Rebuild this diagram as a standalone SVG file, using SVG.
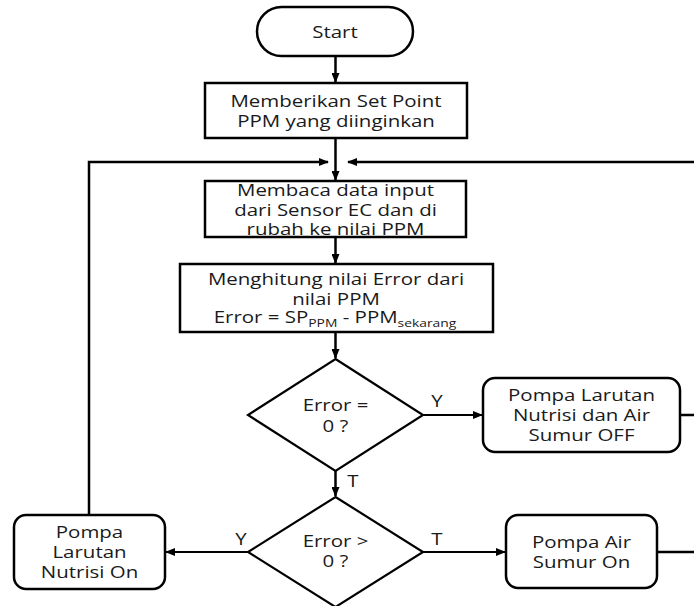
<svg xmlns="http://www.w3.org/2000/svg" width="694" height="606" viewBox="0 0 694 606">
<style>
.b{fill:#fff;stroke:#000;stroke-width:2.5}
.d{fill:#fff;stroke:#000;stroke-width:2.2}
.c{fill:none;stroke:#000;stroke-width:2.5}
.c2{fill:none;stroke:#000;stroke-width:2}
.t{font-family:"Open Sans","DejaVu Sans",sans-serif;font-size:15.5px;text-anchor:middle;fill:#1a1a1a}
.s{font-size:10.5px}
</style>
<defs>
<marker id="ah" markerUnits="userSpaceOnUse" markerWidth="10" markerHeight="8" refX="9" refY="4" orient="auto">
<path d="M0,0 L10,4 L0,8 Z" fill="#000"/>
</marker>
</defs>
<rect width="694" height="606" fill="#fff"/>
<g id="connectors">
<path class="c" d="M335.5,56 V82" marker-end="url(#ah)"/>
<path class="c" d="M335.5,138 V180" marker-end="url(#ah)"/>
<path class="c" d="M89,515 V162 H328" marker-end="url(#ah)"/>
<path class="c" d="M680,415 H698 M657,552 H698 V162 H348" marker-end="url(#ah)"/>
<path class="c" d="M335.5,237 V263" marker-end="url(#ah)"/>
<path class="c" d="M335.5,332 V358" marker-end="url(#ah)"/>
<path class="c2" d="M423,415 H482" marker-end="url(#ah)"/>
<path class="c" d="M335.5,471 V496" marker-end="url(#ah)"/>
<path class="c2" d="M248,552 H166" marker-end="url(#ah)"/>
<path class="c2" d="M423,552 H505" marker-end="url(#ah)"/>
<text class="t" transform="translate(437,0) scale(1.32,1)" y="407">Y</text>
<text class="t" transform="translate(353,0) scale(1.32,1)" y="487">T</text>
<text class="t" transform="translate(241,0) scale(1.32,1)" y="545">Y</text>
<text class="t" transform="translate(437,0) scale(1.32,1)" y="545">T</text>
</g>
<g id="start">
<rect class="b" x="257" y="7" width="156" height="49" rx="24.5"/>
<text class="t" transform="translate(335,0) scale(1.32,1)" y="38.5">Start</text>
</g>
<g id="setpoint">
<rect class="b" x="205" y="83" width="262" height="55"/>
<text class="t" transform="translate(336,0) scale(1.32,1)" y="107.5">Memberikan Set Point</text>
<text class="t" transform="translate(336,0) scale(1.32,1)" y="127.5">PPM yang diinginkan</text>
</g>
<g id="baca">
<rect class="b" x="205" y="181" width="261" height="56"/>
<text class="t" transform="translate(335.5,0) scale(1.32,1)" y="196.5">Membaca data input</text>
<text class="t" transform="translate(335.5,0) scale(1.32,1)" y="216">dari Sensor EC dan di</text>
<text class="t" transform="translate(335.5,0) scale(1.32,1)" y="235.5">rubah ke nilai PPM</text>
</g>
<g id="hitung">
<rect class="b" x="180" y="264" width="313" height="68"/>
<text class="t" transform="translate(336,0) scale(1.32,1)" y="285">Menghitung nilai Error dari</text>
<text class="t" transform="translate(336,0) scale(1.32,1)" y="305">nilai PPM</text>
<text class="t" transform="translate(335,0) scale(1.32,1)" y="323.5">Error = SP<tspan class="s" dy="4">PPM</tspan><tspan dy="-4"> - PPM</tspan><tspan class="s" dy="4">sekarang</tspan></text>
</g>
<g id="cek0">
<polygon class="d" points="335.5,359 423,415 335.5,471 248,415"/>
<text class="t" transform="translate(335.5,0) scale(1.32,1)" y="411">Error =</text>
<text class="t" transform="translate(335.5,0) scale(1.32,1)" y="432">0 ?</text>
</g>
<g id="off">
<rect class="b" x="483" y="378" width="197" height="74" rx="12"/>
<text class="t" transform="translate(581.5,0) scale(1.32,1)" y="401">Pompa Larutan</text>
<text class="t" transform="translate(581.5,0) scale(1.32,1)" y="421">Nutrisi dan Air</text>
<text class="t" transform="translate(581.5,0) scale(1.32,1)" y="441">Sumur OFF</text>
</g>
<g id="cekpos">
<polygon class="d" points="335.5,497 423,552 335.5,607 248,552"/>
<text class="t" transform="translate(335.5,0) scale(1.32,1)" y="547.5">Error &gt;</text>
<text class="t" transform="translate(335.5,0) scale(1.32,1)" y="567.5">0 ?</text>
</g>
<g id="nutrisi">
<rect class="b" x="14" y="515" width="151" height="74" rx="12"/>
<text class="t" transform="translate(89.5,0) scale(1.32,1)" y="538.5">Pompa</text>
<text class="t" transform="translate(89.5,0) scale(1.32,1)" y="558.5">Larutan</text>
<text class="t" transform="translate(89.5,0) scale(1.32,1)" y="578.5">Nutrisi On</text>
</g>
<g id="air">
<rect class="b" x="506" y="515" width="151" height="73" rx="12"/>
<text class="t" transform="translate(581.5,0) scale(1.32,1)" y="548.5">Pompa Air</text>
<text class="t" transform="translate(581.5,0) scale(1.32,1)" y="568.5">Sumur On</text>
</g>
</svg>
